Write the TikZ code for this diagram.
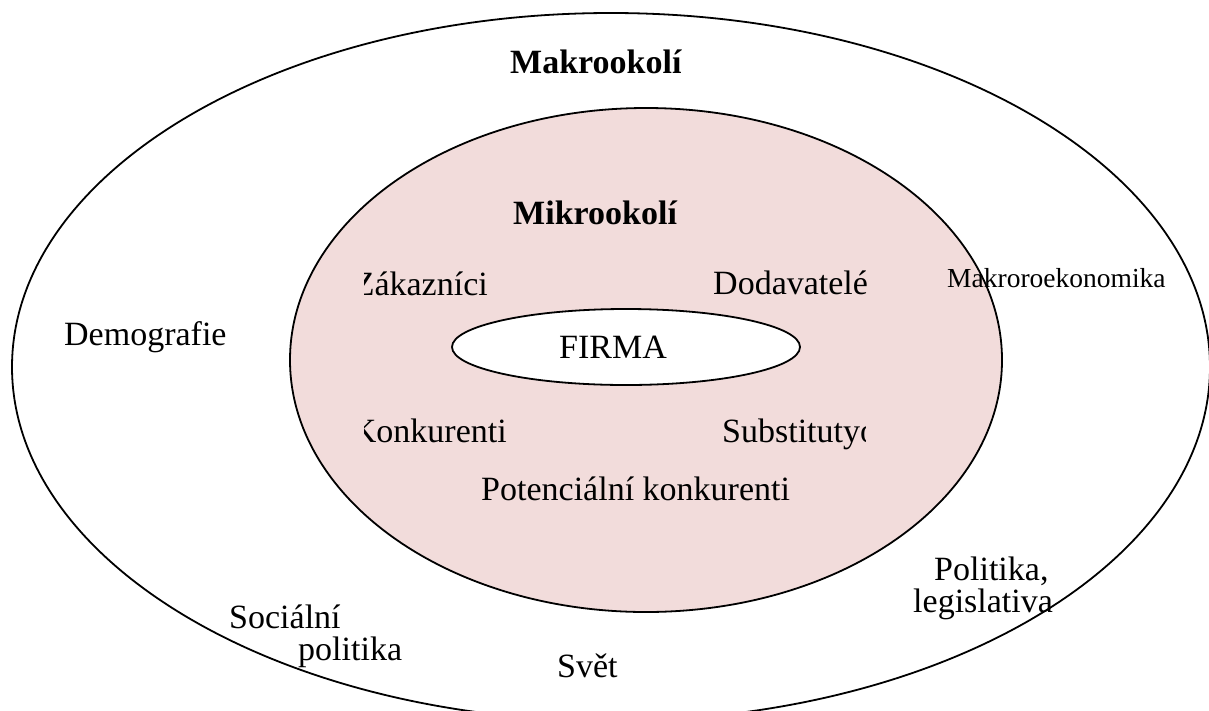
\documentclass[tikz,border=0pt]{standalone}
\usepackage{fontspec}
\setmainfont{Liberation Serif}
\definecolor{micro}{HTML}{F2DCDB}
\begin{document}
\begin{tikzpicture}[x=1pt,y=-1pt,
  ring/.style={draw=black,line width=1.8pt},
  lbl/.style={inner sep=0pt,anchor=base west,font=\fontsize{34}{40}\selectfont},
  lblb/.style={lbl,font=\fontsize{34}{40}\selectfont\bfseries},
  lbls/.style={lbl,font=\fontsize{27.5}{32}\selectfont}]
\useasboundingbox (0,0) rectangle (1209,710);
\clip (0,0) rectangle (1209,710);
% macro environment
\draw[ring,fill=white] (611,367) ellipse [x radius=599,y radius=354];
% micro environment
\draw[ring,fill=micro] (646,360) ellipse [x radius=356,y radius=252];
% the firm
\draw[ring,fill=white] (626,347) ellipse [x radius=174,y radius=38];

\node[lblb] (makro) at (510,73) {Makrookolí};
\node[lblb] (mikro) at (513,224) {Mikrookolí};
\node[lbl] (firma) at (559,358) {FIRMA};
\node[lbl] (dodav) at (713,294) {Dodavatelé};
\node[lbl] (potenc) at (481,500) {Potenciální konkurenti};
% text boxes cut off at their left edge
\begin{scope}
  \clip (364,240) rectangle (600,470);
  \node[lbl,anchor=base east] (zakaz) at (488,295) {Zákazníci};
  \node[lbl,anchor=base east] (konk) at (507,442) {Konkurenti};
\end{scope}
% text box cut off at its right edge
\begin{scope}
  \clip (700,400) rectangle (865,470);
  \node[lbl] (subst) at (722,442) {Substitutyo};
\end{scope}
\node[lbl] (demo) at (64,345) {Demografie};
\node[lbls] (makroek) at (947,287) {Makroroekonomika};
\node[lbl] (polit) at (934,580) {Politika,};
\node[lbl] (legis) at (913,612) {legislativa};
\node[lbl] (soc) at (229,628) {Sociální};
\node[lbl] (socpol) at (298,660) {politika};
\node[lbl] (svet) at (557,677) {Svět};
\end{tikzpicture}
\end{document}
